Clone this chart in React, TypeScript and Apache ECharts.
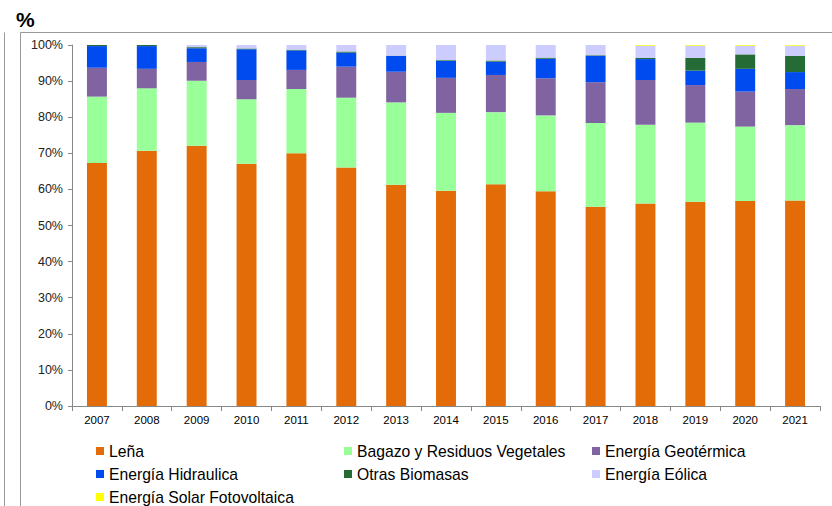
import React, { useEffect, useRef } from "react";
import * as echarts from "echarts";

const years = ["2007","2008","2009","2010","2011","2012","2013","2014","2015","2016","2017","2018","2019","2020","2021"];
const lena = [67.3, 70.7, 72.1, 67.1, 70.0, 66.1, 61.3, 59.6, 61.4, 59.5, 55.2, 56.1, 56.6, 56.8, 56.9];
const bagazo = [18.4, 17.3, 18.0, 17.9, 17.8, 19.3, 22.8, 21.6, 20.0, 21.0, 23.2, 21.8, 21.9, 20.6, 20.9];
const geotermica = [8.0, 5.4, 5.2, 5.3, 5.3, 8.6, 8.5, 9.7, 10.3, 10.3, 11.3, 12.4, 10.4, 9.7, 10.0];
const hidraulica = [6.0, 6.3, 3.8, 8.5, 5.4, 3.9, 4.35, 4.7, 3.7, 5.4, 7.25, 5.8, 4.0, 6.3, 4.7];
const otras = [0.3, 0.3, 0.3, 0.2, 0.2, 0.3, 0.1, 0.2, 0.3, 0.3, 0.2, 0.3, 3.5, 4.0, 4.5];
const eolica = [0.0, 0.0, 0.6, 1.0, 1.3, 1.8, 3.0, 4.2, 4.3, 3.5, 2.9, 3.4, 3.4, 2.4, 2.8];
const solar = [0, 0, 0, 0, 0, 0, 0, 0, 0, 0, 0, 0.2, 0.2, 0.2, 0.2];

const seriesNames = [
  "Leña",
  "Bagazo y Residuos Vegetales",
  "Energía Geotérmica",
  "Energía Hidraulica",
  "Otras Biomasas",
  "Energía Eólica",
  "Energía Solar Fotovoltaica",
];
const seriesData = [lena, bagazo, geotermica, hidraulica, otras, eolica, solar];
const colors = ["#E36C09", "#99FF99", "#8064A2", "#004BF0", "#246B35", "#CCCCFF", "#FFFF00"];

const FONT = "'Liberation Sans', Arial, sans-serif";

export default function App() {
  const ref = useRef<HTMLDivElement>(null);
  useEffect(() => {
    if (!ref.current) return;
    const chart = echarts.init(ref.current, null, { renderer: "svg" });
    const legendBase = {
      orient: "vertical" as const,
      icon: "rect",
      itemWidth: 8,
      itemHeight: 8,
      itemGap: 7,
      padding: 0,
      top: 443,
      textStyle: { fontSize: 15.7, fontFamily: FONT, color: "#000", lineHeight: 15 },
    };
    chart.setOption({
      animation: false,
      color: colors,
      grid: { left: 72, right: 12, top: 45, bottom: 100 },
      legend: [
        { ...legendBase, left: 96, data: [seriesNames[0], seriesNames[3], seriesNames[6]] },
        { ...legendBase, left: 344, data: [seriesNames[1], seriesNames[4]] },
        { ...legendBase, left: 592, data: [seriesNames[2], seriesNames[5]] },
      ],
      xAxis: {
        type: "category",
        data: years,
        axisLine: { lineStyle: { color: "#888" } },
        axisTick: { show: true, length: 5, lineStyle: { color: "#888" } },
        axisLabel: { fontSize: 11.5, fontFamily: FONT, color: "#000", margin: 8 },
      },
      yAxis: {
        type: "value",
        min: 0,
        max: 100,
        interval: 10,
        axisLine: { show: true, lineStyle: { color: "#888" } },
        axisTick: { show: true, length: 4, lineStyle: { color: "#888" } },
        splitLine: { show: false },
        axisLabel: { formatter: "{value}%", fontSize: 12.5, fontFamily: FONT, color: "#222", margin: 9 },
      },
      series: seriesNames.map((name, i) => ({
        name,
        type: "bar",
        stack: "total",
        barWidth: "40%",
        data: seriesData[i],
        itemStyle: { color: colors[i] },
      })),
      graphic: [
        { type: "line", shape: { x1: 4.5, y1: 32.5, x2: 4.5, y2: 506 }, style: { stroke: "#999", lineWidth: 1 } },
        { type: "line", shape: { x1: 20.5, y1: 32.5, x2: 20.5, y2: 506 }, style: { stroke: "#999", lineWidth: 1 } },
        { type: "line", shape: { x1: 20.5, y1: 32.5, x2: 832, y2: 32.5 }, style: { stroke: "#999", lineWidth: 1 } },
        {
          type: "text",
          left: 16,
          top: 9,
          style: { text: "%", font: `bold 21px ${FONT}`, fill: "#000" },
        },
      ],
    });
    return () => chart.dispose();
  }, []);
  return (
    <div
      ref={ref}
      style={{ position: "absolute", left: 0, top: 0, width: 832, height: 506, background: "#fff" }}
    />
  );
}
